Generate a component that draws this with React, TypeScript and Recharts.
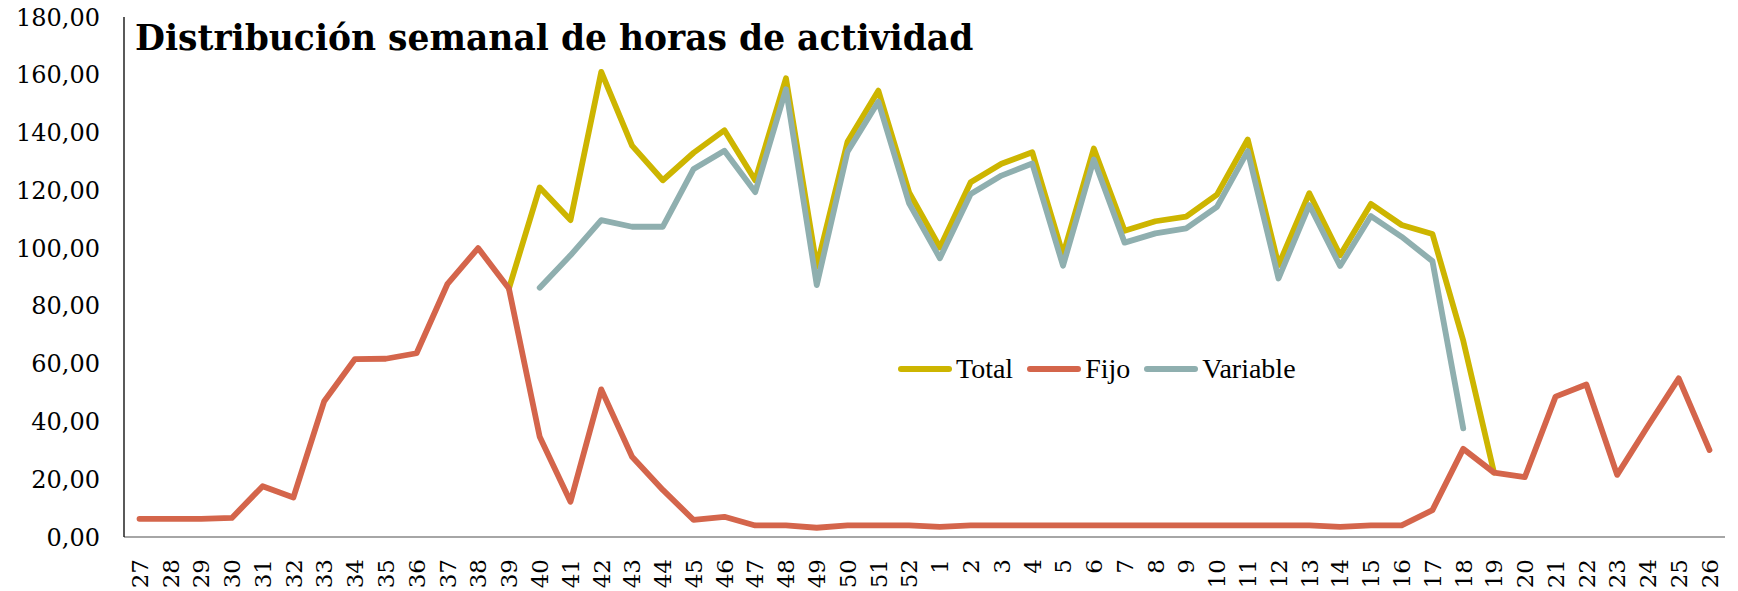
import React from "react";
import { LineChart, Line, XAxis, YAxis, Legend } from "recharts";

const WEEKS = [
  27, 28, 29, 30, 31, 32, 33, 34, 35, 36, 37, 38, 39, 40, 41, 42, 43, 44, 45, 46, 47, 48, 49, 50, 51, 52,
  1, 2, 3, 4, 5, 6, 7, 8, 9, 10, 11, 12, 13, 14, 15, 16, 17, 18, 19, 20, 21, 22, 23, 24, 25, 26,
];

// weeks 27..52 then 1..26
const FIJO = [
  6.3, 6.3, 6.3, 6.6, 17.6, 13.7, 47, 61.6, 61.7, 63.6, 87.5, 100, 86, 34.7, 12.2, 51.1, 27.8, 16.3, 5.9, 7.0, 4.0, 4.0, 3.2, 4.0, 4.0, 4.0,
  3.5, 4, 4, 4, 4, 4, 4, 4, 4, 4, 4, 4, 4, 3.5, 4, 4, 9.3, 30.5, 22.3, 20.7, 48.6, 52.8, 21.5, 38.4, 54.9, 30.1,
];

const VARIABLE = [
  null, null, null, null, null, null, null, null, null, null, null, null, null, 86.3, 97.5, 109.7, 107.4, 107.4, 127.4, 133.7, 119.4, 155, 87.2, 133.4, 150.7, 115.5,
  96.5, 118.7, 125.1, 129.3, 93.9, 130.7, 101.9, 105.1, 106.8, 114.3, 133.6, 89.5, 114.9, 93.8, 111.1, 103.9, 95.5, 37.6, null, null, null, null, null, null, null, null,
];

const TOTAL = [
  null, null, null, null, null, null, null, null, null, null, null, null, 86, 121, 109.7, 161, 135.5, 123.5, 133, 140.8, 123.5, 158.8, 93.6, 136.8, 154.5, 119.3,
  100.2, 122.8, 129.2, 133.2, 97.7, 134.5, 106, 109.3, 110.9, 118.5, 137.6, 94.1, 119, 97.5, 115.3, 108, 104.9, 68, 22.3, null, null, null, null, null, null, null,
];

const Y_TICKS = [0, 20, 40, 60, 80, 100, 120, 140, 160, 180];

const SERIES = [
  { key: "total", label: "Total", color: "#CDB500" },
  { key: "fijo", label: "Fijo", color: "#D4654B" },
  { key: "variable", label: "Variable", color: "#8FAFAF" },
];

const data = WEEKS.map((w, i) => ({
  week: String(w),
  total: TOTAL[i],
  fijo: FIJO[i],
  variable: VARIABLE[i],
}));

function WeekTick(props: any) {
  const { x, y, payload } = props;
  return (
    <text
      transform={`translate(${x}, ${y + 14}) rotate(-90)`}
      textAnchor="end"
      dy="0.36em"
      fontFamily="DejaVu Serif"
      fontSize={23}
      fill="#000"
    >
      {payload.value}
    </text>
  );
}

function LegendBox() {
  return (
    <div style={{ display: "flex", alignItems: "center", fontFamily: "Liberation Serif", fontSize: 28, color: "#000" }}>
      {SERIES.map((s, i) => (
        <div key={s.key} style={{ display: "flex", alignItems: "center", marginLeft: i === 0 ? 0 : 14 }}>
          <span style={{ display: "inline-block", width: 54, height: 6, borderRadius: 3, background: s.color, marginRight: 4 }} />
          <span>{s.label}</span>
        </div>
      ))}
    </div>
  );
}

export default function App() {
  return (
    <div style={{ position: "absolute", left: 0, top: 0, width: 1738, height: 591, background: "#fff" }}>
      <LineChart width={1738} height={591} data={data} margin={{ top: 17, right: 13, bottom: 0, left: 0 }}>
        <XAxis
          dataKey="week"
          interval={0}
          tick={<WeekTick />}
          tickLine={false}
          axisLine={{ stroke: "#A6A6A6", strokeWidth: 2 }}
          height={54}
          padding={{ left: 15.5, right: 15.5 }}
        />
        <YAxis
          domain={[0, 180]}
          ticks={Y_TICKS}
          width={124}
          tickSize={0}
          tickMargin={24}
          tickLine={false}
          axisLine={{ stroke: "#000", strokeWidth: 1.3 }}
          tickFormatter={(v: number) => v.toFixed(2).replace(".", ",")}
          tick={{ fontFamily: "DejaVu Serif", fontSize: 24, fill: "#000" }}
        />
        <Legend
          layout="horizontal"
          verticalAlign="middle"
          align="center"
          content={() => <LegendBox />}
          wrapperStyle={{ left: 898, top: 353, width: "auto" }}
        />
        {SERIES.map((s) => (
          <Line
            key={s.key}
            dataKey={s.key}
            name={s.label}
            stroke={s.color}
            strokeWidth={5.8}
            strokeLinejoin="round"
            strokeLinecap="round"
            dot={false}
            activeDot={false}
            isAnimationActive={false}
          />
        ))}
      </LineChart>
      <div
        style={{
          position: "absolute",
          left: 135,
          top: 21,
          fontFamily: "DejaVu Serif",
          fontWeight: "bold",
          fontSize: 34.5,
          lineHeight: "34.5px",
          color: "#000",
          whiteSpace: "nowrap",
        }}
      >
        Distribución semanal de horas de actividad
      </div>
    </div>
  );
}
